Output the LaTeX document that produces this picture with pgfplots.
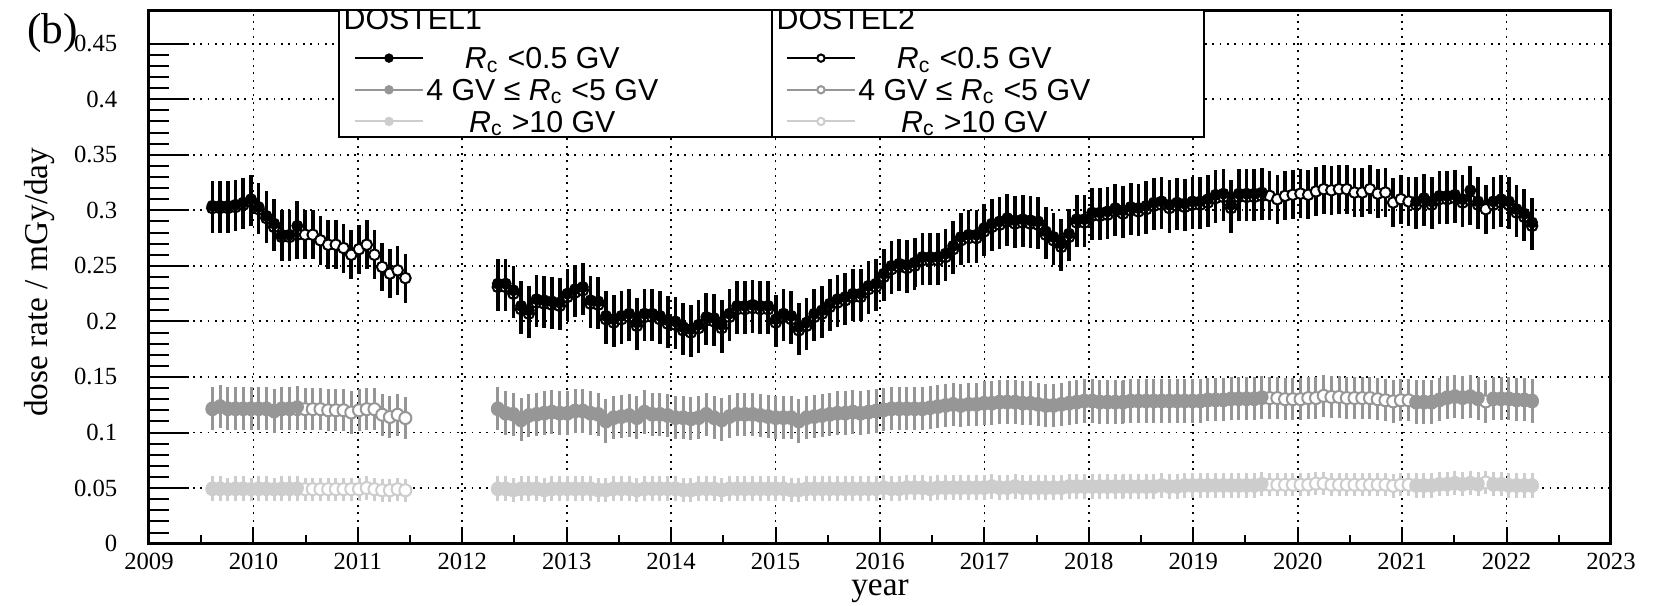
\documentclass[border=0pt]{standalone}
\usepackage{fontspec}
\setmainfont{Liberation Serif}
\newfontfamily\legfont{Liberation Sans}
\usepackage{pgfplots}
\usepackage{pgfplotstable}
\pgfplotsset{compat=1.18}

\definecolor{midgray}{RGB}{150,150,150}
\definecolor{lightgray2}{RGB}{205,205,205}
\newcommand{\lst}{\rule[-2.6pt]{0pt}{10.6pt}}

% DOSTEL1: x = year, b = Rc<0.5 GV, g = 4-5 GV, l = Rc>10 GV
\pgfplotstableread{
x b g l
2009.607 0.304 0.122 0.050
2009.681 0.304 0.124 0.050
2009.755 0.304 0.122 0.049
2009.829 0.305 0.122 0.050
2009.903 0.307 0.122 0.050
2009.977 0.310 0.122 0.049
2010.050 0.303 0.122 0.050
2010.124 0.295 0.122 0.050
2010.198 0.288 0.120 0.049
2010.272 0.278 0.122 0.050
2010.346 0.278 0.122 0.050
2010.420 0.286 0.123 0.050
2012.341 0.234 0.122 0.050
2012.415 0.234 0.118 0.050
2012.489 0.228 0.117 0.049
2012.563 0.214 0.112 0.050
2012.637 0.210 0.116 0.050
2012.711 0.220 0.117 0.050
2012.785 0.219 0.118 0.049
2012.859 0.218 0.119 0.050
2012.933 0.217 0.118 0.050
2013.006 0.225 0.118 0.050
2013.080 0.229 0.120 0.050
2013.154 0.231 0.120 0.050
2013.228 0.219 0.118 0.050
2013.302 0.218 0.117 0.049
2013.376 0.205 0.111 0.049
2013.450 0.202 0.114 0.050
2013.524 0.205 0.115 0.050
2013.598 0.207 0.116 0.050
2013.672 0.199 0.114 0.049
2013.745 0.207 0.119 0.050
2013.819 0.207 0.117 0.050
2013.893 0.205 0.117 0.050
2013.967 0.201 0.116 0.050
2014.041 0.200 0.114 0.050
2014.115 0.195 0.114 0.049
2014.189 0.193 0.113 0.049
2014.263 0.197 0.114 0.050
2014.337 0.204 0.117 0.050
2014.411 0.203 0.114 0.050
2014.484 0.197 0.112 0.049
2014.558 0.207 0.115 0.050
2014.632 0.214 0.117 0.050
2014.706 0.214 0.117 0.050
2014.780 0.215 0.117 0.050
2014.854 0.214 0.116 0.050
2014.928 0.214 0.115 0.050
2015.002 0.202 0.114 0.050
2015.076 0.207 0.114 0.050
2015.150 0.205 0.114 0.049
2015.223 0.195 0.111 0.049
2015.297 0.199 0.114 0.050
2015.371 0.207 0.115 0.050
2015.445 0.210 0.116 0.050
2015.519 0.216 0.117 0.050
2015.593 0.220 0.118 0.050
2015.667 0.222 0.118 0.050
2015.741 0.225 0.119 0.050
2015.815 0.225 0.118 0.050
2015.889 0.232 0.119 0.050
2015.962 0.234 0.120 0.050
2016.036 0.243 0.121 0.051
2016.110 0.250 0.122 0.050
2016.184 0.252 0.122 0.050
2016.258 0.251 0.122 0.051
2016.332 0.253 0.122 0.051
2016.406 0.258 0.122 0.051
2016.480 0.258 0.123 0.050
2016.554 0.258 0.124 0.051
2016.628 0.261 0.125 0.051
2016.701 0.268 0.126 0.051
2016.775 0.276 0.125 0.051
2016.849 0.278 0.126 0.051
2016.923 0.278 0.126 0.051
2016.997 0.284 0.127 0.051
2017.071 0.288 0.127 0.052
2017.145 0.290 0.128 0.051
2017.219 0.293 0.128 0.051
2017.293 0.291 0.128 0.052
2017.367 0.292 0.127 0.051
2017.440 0.291 0.127 0.051
2017.514 0.290 0.126 0.051
2017.588 0.281 0.125 0.051
2017.662 0.276 0.125 0.051
2017.736 0.270 0.126 0.051
2017.810 0.279 0.127 0.052
2017.884 0.292 0.128 0.052
2017.958 0.292 0.129 0.052
2018.032 0.298 0.129 0.052
2018.106 0.298 0.128 0.052
2018.179 0.299 0.128 0.052
2018.253 0.302 0.128 0.052
2018.327 0.300 0.128 0.052
2018.401 0.303 0.129 0.052
2018.475 0.302 0.129 0.052
2018.549 0.304 0.129 0.052
2018.623 0.307 0.129 0.052
2018.697 0.308 0.129 0.053
2018.771 0.305 0.129 0.052
2018.845 0.307 0.129 0.052
2018.918 0.306 0.129 0.053
2018.992 0.308 0.129 0.053
2019.066 0.308 0.129 0.053
2019.140 0.310 0.130 0.053
2019.214 0.314 0.130 0.053
2019.288 0.315 0.130 0.053
2019.362 0.305 0.131 0.053
2019.436 0.315 0.131 0.053
2019.510 0.315 0.131 0.053
2019.584 0.315 0.131 0.053
2019.657 0.316 0.132 0.054
2021.135 0.308 0.128 0.053
2021.209 0.311 0.128 0.053
2021.283 0.308 0.128 0.053
2021.357 0.313 0.130 0.054
2021.431 0.313 0.132 0.054
2021.505 0.314 0.133 0.055
2021.579 0.310 0.132 0.054
2021.653 0.318 0.133 0.055
2021.727 0.308 0.131 0.054
2021.874 0.308 0.131 0.054
2021.948 0.310 0.131 0.054
2022.022 0.308 0.131 0.053
2022.096 0.301 0.130 0.053
2022.170 0.297 0.130 0.053
2022.244 0.289 0.129 0.053
}\dostelone

% DOSTEL2
\pgfplotstableread{
x b g l
2009.607 0.302 0.121 0.049
2009.681 0.302 0.123 0.049
2009.755 0.302 0.121 0.049
2009.829 0.303 0.121 0.049
2009.903 0.305 0.121 0.049
2009.977 0.308 0.121 0.049
2010.050 0.301 0.121 0.049
2010.124 0.293 0.121 0.049
2010.198 0.285 0.119 0.049
2010.272 0.276 0.121 0.049
2010.346 0.276 0.121 0.049
2010.420 0.278 0.121 0.049
2010.494 0.278 0.121 0.049
2010.568 0.278 0.121 0.049
2010.642 0.273 0.121 0.049
2010.716 0.269 0.120 0.049
2010.789 0.269 0.120 0.049
2010.863 0.266 0.120 0.049
2010.937 0.260 0.118 0.049
2011.011 0.265 0.120 0.049
2011.085 0.269 0.121 0.050
2011.159 0.260 0.121 0.049
2011.233 0.249 0.116 0.048
2011.307 0.243 0.114 0.048
2011.381 0.246 0.116 0.049
2011.455 0.239 0.113 0.048
2012.341 0.231 0.121 0.049
2012.415 0.231 0.117 0.049
2012.489 0.225 0.116 0.048
2012.563 0.211 0.111 0.049
2012.637 0.207 0.115 0.049
2012.711 0.217 0.116 0.049
2012.785 0.216 0.117 0.048
2012.859 0.215 0.118 0.049
2012.933 0.214 0.117 0.049
2013.006 0.222 0.117 0.049
2013.080 0.226 0.119 0.049
2013.154 0.228 0.119 0.049
2013.228 0.216 0.117 0.049
2013.302 0.215 0.116 0.048
2013.376 0.202 0.110 0.048
2013.450 0.199 0.113 0.049
2013.524 0.202 0.114 0.049
2013.598 0.204 0.115 0.049
2013.672 0.196 0.113 0.048
2013.745 0.204 0.118 0.049
2013.819 0.204 0.116 0.049
2013.893 0.202 0.116 0.049
2013.967 0.198 0.115 0.049
2014.041 0.197 0.113 0.049
2014.115 0.192 0.113 0.048
2014.189 0.190 0.112 0.048
2014.263 0.194 0.113 0.049
2014.337 0.201 0.116 0.049
2014.411 0.200 0.113 0.049
2014.484 0.194 0.111 0.048
2014.558 0.204 0.114 0.049
2014.632 0.211 0.116 0.049
2014.706 0.211 0.116 0.049
2014.780 0.212 0.116 0.049
2014.854 0.211 0.115 0.049
2014.928 0.211 0.114 0.049
2015.002 0.199 0.113 0.049
2015.076 0.204 0.113 0.049
2015.150 0.202 0.113 0.048
2015.223 0.192 0.110 0.048
2015.297 0.196 0.113 0.049
2015.371 0.204 0.114 0.049
2015.445 0.207 0.115 0.049
2015.519 0.213 0.116 0.049
2015.593 0.217 0.117 0.049
2015.667 0.219 0.117 0.049
2015.741 0.222 0.118 0.049
2015.815 0.222 0.117 0.049
2015.889 0.229 0.118 0.049
2015.962 0.231 0.119 0.049
2016.036 0.240 0.120 0.050
2016.110 0.247 0.121 0.049
2016.184 0.249 0.121 0.049
2016.258 0.248 0.121 0.050
2016.332 0.250 0.121 0.050
2016.406 0.255 0.121 0.050
2016.480 0.255 0.122 0.049
2016.554 0.255 0.123 0.050
2016.628 0.258 0.124 0.050
2016.701 0.265 0.125 0.050
2016.775 0.273 0.124 0.050
2016.849 0.275 0.125 0.050
2016.923 0.275 0.125 0.050
2016.997 0.281 0.126 0.050
2017.071 0.285 0.126 0.051
2017.145 0.287 0.127 0.050
2017.219 0.290 0.127 0.050
2017.293 0.288 0.127 0.051
2017.367 0.289 0.126 0.050
2017.440 0.288 0.126 0.050
2017.514 0.287 0.125 0.050
2017.588 0.278 0.124 0.050
2017.662 0.273 0.124 0.050
2017.736 0.267 0.125 0.050
2017.810 0.276 0.126 0.051
2017.884 0.289 0.127 0.051
2017.958 0.289 0.128 0.051
2018.032 0.295 0.128 0.051
2018.106 0.295 0.127 0.051
2018.179 0.296 0.127 0.051
2018.253 0.299 0.127 0.051
2018.327 0.297 0.127 0.051
2018.401 0.300 0.128 0.051
2018.475 0.299 0.128 0.051
2018.549 0.301 0.128 0.051
2018.623 0.304 0.128 0.051
2018.697 0.305 0.128 0.052
2018.771 0.302 0.128 0.051
2018.845 0.304 0.128 0.051
2018.918 0.303 0.128 0.052
2018.992 0.305 0.128 0.052
2019.066 0.305 0.128 0.052
2019.140 0.307 0.129 0.052
2019.214 0.311 0.129 0.052
2019.288 0.312 0.129 0.052
2019.362 0.302 0.130 0.052
2019.436 0.312 0.130 0.052
2019.510 0.312 0.130 0.052
2019.584 0.312 0.130 0.052
2019.657 0.313 0.131 0.053
2019.731 0.313 0.131 0.053
2019.805 0.310 0.131 0.053
2019.879 0.313 0.130 0.053
2019.953 0.314 0.130 0.053
2020.027 0.315 0.130 0.053
2020.101 0.314 0.131 0.053
2020.175 0.317 0.131 0.054
2020.249 0.319 0.133 0.054
2020.323 0.318 0.132 0.053
2020.396 0.319 0.132 0.053
2020.470 0.319 0.131 0.053
2020.544 0.316 0.131 0.053
2020.618 0.316 0.131 0.053
2020.692 0.319 0.131 0.053
2020.766 0.315 0.130 0.053
2020.840 0.316 0.129 0.053
2020.914 0.307 0.128 0.052
2020.988 0.310 0.129 0.053
2021.062 0.308 0.129 0.053
2021.135 0.305 0.127 0.052
2021.209 0.308 0.127 0.052
2021.283 0.305 0.127 0.052
2021.357 0.310 0.129 0.053
2021.431 0.310 0.131 0.053
2021.505 0.311 0.132 0.054
2021.579 0.307 0.131 0.053
2021.653 0.309 0.132 0.054
2021.727 0.305 0.130 0.053
2021.801 0.301 0.128 0.055
2021.874 0.305 0.130 0.053
2021.948 0.307 0.130 0.053
2022.022 0.305 0.130 0.052
2022.096 0.298 0.129 0.052
2022.170 0.294 0.129 0.052
2022.244 0.286 0.128 0.052
}\dosteltwo

\pgfplotsset{
  common/.style={
    scale only axis, width=438.6pt, height=160pt,
    at={(0,0)}, anchor=south west,
    xmin=2009, xmax=2023, ymin=0, ymax=0.48,
    ytick={0,0.05,0.1,0.15,0.2,0.25,0.3,0.35,0.4,0.45},
    tick align=inside,
    legend image code/.code={\draw[mark repeat=2,mark phase=2,##1] plot coordinates {(0pt,0pt) (10.2pt,0pt) (20.4pt,0pt)};},
  },
  leg/.style={
    legend style={at={(axis description cs:#1,0.9400)}, anchor=north west,
      draw=none, fill=none, inner sep=0pt, outer sep=0pt,
      row sep=0pt, column sep=0pt,
      font=\legfont\fontsize{9.1}{10}\selectfont,
      nodes={inner sep=0pt}},
    legend cell align=left,
  },
}

\begin{document}
\begin{tikzpicture}
\path[use as bounding box] (-44.7pt,-18.42pt) rectangle (451.8pt,163.09pt);

% axis with frame, grid, labels and DOSTEL2
\begin{axis}[common, leg=0.4357,
  xtick={2009,2010,2011,2012,2013,2014,2015,2016,2017,2018,2019,2020,2021,2022,2023},
  xticklabels={2009,2010,2011,2012,2013,2014,2015,2016,2017,2018,2019,2020,2021,2022,2023},
  yticklabels={0,0.05,0.1,0.15,0.2,0.25,0.3,0.35,0.4,0.45},
  minor x tick num=1,
  xtick pos=bottom, ytick pos=left,
  major tick length=5pt, minor tick length=2.7pt,
  xtick style={black, line width=0.6pt},
  ytick style={draw=none},
  grid=major,
  major grid style={black, line width=0.55pt, dash pattern=on 0.55pt off 1.65pt},
  axis line style={line width=0.9pt},
  tick label style={font=\fontsize{7.4}{8}\selectfont},
  xticklabel style={inner sep=1pt, yshift=-1.5pt},
  yticklabel style={xshift=-6pt},
  xlabel={year}, ylabel={dose rate / mGy/day},
  label style={font=\fontsize{8.7}{10}\selectfont, inner sep=0pt},
  every axis x label/.style={at={(axis description cs:0.5,-0.09)}, anchor=center},
  every axis y label/.style={at={(axis description cs:-0.0746,0.49)}, rotate=90, anchor=center},
]
\draw[line width=0.6pt, fill=white] (axis description cs:0.130,0.7622) rectangle (axis description cs:0.4261,1);
\draw[line width=0.6pt, fill=white] (axis description cs:0.4261,0.7622) rectangle (axis description cs:0.7216,1);
\node[anchor=west, inner sep=0pt, font=\legfont\fontsize{9.1}{10}\selectfont] at (axis description cs:0.1327,0.9837) {DOSTEL1};
\node[anchor=west, inner sep=0pt, font=\legfont\fontsize{9.1}{10}\selectfont] at (axis description cs:0.4289,0.9837) {DOSTEL2};

\addplot[forget plot, only marks, black, mark=*, mark size=1.6pt, mark options={fill=white, line width=0.6pt},
  error bars/.cd, y dir=both, y fixed=0.022, error mark=none, error bar style={black, line width=1.1pt}] table[x=x, y=b]{\dosteltwo};
\addplot[forget plot, only marks, midgray, mark=*, mark size=1.8pt, mark options={fill=white, line width=0.6pt},
  error bars/.cd, y dir=both, y fixed=0.019, error mark=none, error bar style={midgray, line width=0.9pt}] table[x=x, y=g]{\dosteltwo};
\addplot[forget plot, only marks, lightgray2, mark=*, mark size=1.8pt, mark options={fill=white, line width=0.6pt},
  error bars/.cd, y dir=both, y fixed=0.0105, error mark=none, error bar style={lightgray2, line width=0.9pt}] table[x=x, y=l]{\dosteltwo};

\addlegendimage{black, line width=0.6pt, mark=*, mark size=1.1pt, mark options={fill=white}}
\addlegendentry{\makebox[71pt]{\lst\textit{R}\textsubscript{c} <0.5 GV}}
\addlegendimage{midgray, line width=0.6pt, mark=*, mark size=1.1pt, mark options={fill=white}}
\addlegendentry{\makebox[71pt]{\lst 4 GV ≤ \textit{R}\textsubscript{c} <5 GV}}
\addlegendimage{lightgray2, line width=0.6pt, mark=*, mark size=1.1pt, mark options={fill=white}}
\addlegendentry{\makebox[71pt]{\lst\textit{R}\textsubscript{c} >10 GV}}
\end{axis}

% overlay axis with long y ticks and DOSTEL1
\begin{axis}[common, leg=0.1402,
  xtick=\empty, minor y tick num=4, yticklabels={,,},
  ytick pos=left,
  major tick length=12pt, minor tick length=6pt,
  ytick style={black, line width=0.6pt},
  axis line style={draw=none},
]
\addplot[forget plot, only marks, black, mark=*, mark size=1.6pt,
  error bars/.cd, y dir=both, y fixed=0.022, error mark=none, error bar style={black, line width=1.1pt}] table[x=x, y=b]{\dostelone};
\addplot[forget plot, only marks, midgray, mark=*, mark size=1.8pt,
  error bars/.cd, y dir=both, y fixed=0.019, error mark=none, error bar style={midgray, line width=0.9pt}] table[x=x, y=g]{\dostelone};
\addplot[forget plot, only marks, lightgray2, mark=*, mark size=1.8pt,
  error bars/.cd, y dir=both, y fixed=0.0105, error mark=none, error bar style={lightgray2, line width=0.9pt}] table[x=x, y=l]{\dostelone};

\addlegendimage{black, line width=0.6pt, mark=*, mark size=1.1pt}
\addlegendentry{\makebox[71pt]{\lst\textit{R}\textsubscript{c} <0.5 GV}}
\addlegendimage{midgray, line width=0.6pt, mark=*, mark size=1.1pt}
\addlegendentry{\makebox[71pt]{\lst 4 GV ≤ \textit{R}\textsubscript{c} <5 GV}}
\addlegendimage{lightgray2, line width=0.6pt, mark=*, mark size=1.1pt}
\addlegendentry{\makebox[71pt]{\lst\textit{R}\textsubscript{c} >10 GV}}
\end{axis}
\node[font=\fontsize{13}{14}\selectfont] at (-29pt,153.2pt) {(b)};
\end{tikzpicture}
\end{document}
